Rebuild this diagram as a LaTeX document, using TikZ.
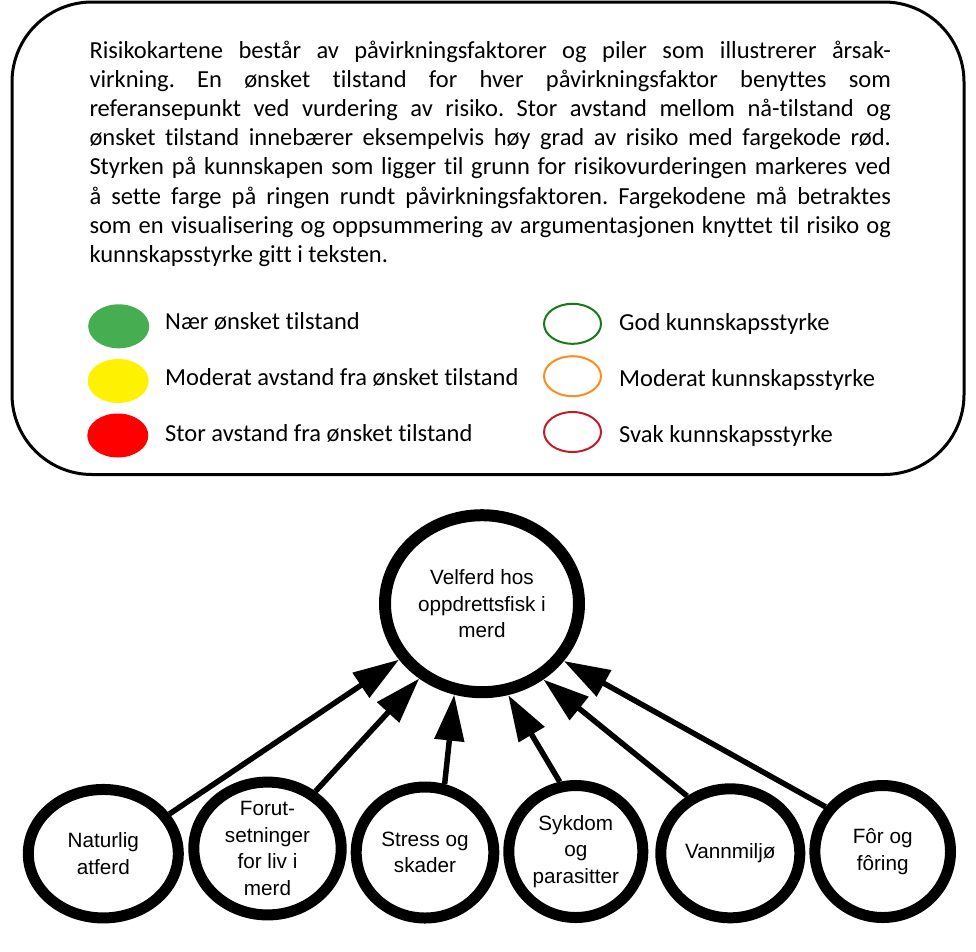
\documentclass[tikz,border=0pt]{standalone}
\usepackage{fontspec}
\setmainfont{Carlito}[Ligatures=NoCommon]
\newfontfamily\arialf{Liberation Sans}
\usetikzlibrary{shapes.geometric,arrows.meta}
\frenchspacing
\definecolor{lgreen}{RGB}{70,173,80}
\definecolor{lyellow}{RGB}{255,242,0}
\definecolor{lred}{RGB}{255,0,0}
\definecolor{kgreen}{RGB}{25,120,25}
\definecolor{korange}{RGB}{255,140,30}
\definecolor{kred}{RGB}{190,30,40}
\tikzset{
  paraline/.style={anchor=base west, inner sep=0pt, font=\fontsize{24.5}{29.15}\selectfont},
  legtext/.style={anchor=base west, inner sep=0pt, font=\fontsize{24.5}{29.15}\selectfont},
  legfill/.style={ellipse, inner sep=0pt, minimum width=61pt, minimum height=44pt},
  legring/.style={ellipse, draw, line width=2pt, inner sep=0pt, minimum width=57pt, minimum height=40pt},
  ring/.style={ellipse, draw, line width=11pt, inner sep=0pt, align=center,
    font=\arialf\fontsize{20.7}{26.5}\selectfont},
  causal/.style={line width=5.5pt, -{Triangle[length=46pt,width=29pt]}}
}
\begin{document}
\begin{tikzpicture}[x=1pt,y=-1pt]
\useasboundingbox (0,0) rectangle (976,951);
% top box
\draw[line width=3pt, rounded corners=80pt] (12,2) rectangle (964,474.5);
% paragraph
\node[paraline] (p1) at (89.3,58.3) {\makebox[801.4pt][s]{Risikokartene består av påvirkningsfaktorer og piler som illustrerer årsak-}};
\node[paraline] (p2) at (89.3,87.5) {\makebox[801.4pt][s]{virkning. En ønsket tilstand for hver påvirkningsfaktor benyttes som}};
\node[paraline] (p3) at (89.3,116.6) {\makebox[801.4pt][s]{referansepunkt ved vurdering av risiko. Stor avstand mellom nå-tilstand og}};
\node[paraline] (p4) at (89.3,145.8) {\makebox[801.4pt][s]{ønsket tilstand innebærer eksempelvis høy grad av risiko med fargekode rød.}};
\node[paraline] (p5) at (89.3,174.9) {\makebox[801.4pt][s]{Styrken på kunnskapen som ligger til grunn for risikovurderingen markeres ved}};
\node[paraline] (p6) at (89.3,204.0) {\makebox[801.4pt][s]{å sette farge på ringen rundt påvirkningsfaktoren. Fargekodene må betraktes}};
\node[paraline] (p7) at (89.3,233.2) {\makebox[801.4pt][s]{som en visualisering og oppsummering av argumentasjonen knyttet til risiko og}};
\node[paraline] (p8) at (89.3,262.3) {kunnskapsstyrke gitt i teksten.};
% legend left
\node[legfill, fill=lgreen] (lg) at (118.7,326.3) {};
\node[legfill, fill=lyellow] (ly) at (118.2,381) {};
\node[legfill, fill=lred] (lr) at (117.8,435.5) {};
\node[legtext] (tg) at (165,329) {Nær ønsket tilstand};
\node[legtext] (ty) at (165,385.7) {Moderat avstand fra ønsket tilstand};
\node[legtext] (tr) at (165,441.7) {Stor avstand fra ønsket tilstand};
% legend right
\node[legring, draw=kgreen] (kg) at (572.5,323.8) {};
\node[legring, draw=korange] (ko) at (572.5,376.2) {};
\node[legring, draw=kred] (kr) at (572.5,432) {};
\node[legtext] (tkg) at (619,330) {God kunnskapsstyrke};
\node[legtext] (tko) at (619,386.5) {Moderat kunnskapsstyrke};
\node[legtext] (tkr) at (619,442.5) {Svak kunnskapsstyrke};
% diagram
\node[ring, line width=12pt, minimum width=194pt, minimum height=177pt] (vel) at (482,603.7) {Velferd hos\\oppdrettsfisk i\\merd};
\node[ring, minimum width=150pt, minimum height=128.5pt] (nat) at (103.3,853.7) {Naturlig\\atferd};
\node[ring, minimum width=147.4pt, minimum height=128pt] (for) at (267.5,848.5) {Forut-\\setninger\\for liv i\\merd};
\node[ring, minimum width=137.6pt, minimum height=131pt] (str) at (425,852.5) {Stress og\\skader};
\node[ring, minimum width=134pt, minimum height=132pt] (syk) at (575.8,851.5) {Sykdom\\og\\parasitter};
\node[ring, minimum width=139pt, minimum height=129pt] (van) at (730.3,853.3) {Vannmiljø};
\node[ring, minimum width=135.6pt, minimum height=132pt] (for2) at (882.7,851.5) {Fôr og\\fôring};
\draw[causal] (nat.31.9) -- (vel.214.2);
\draw[causal] (for.50) -- (vel.230.1);
\draw[causal] (str.74.6) -- (vel.253.8);
\draw[causal] (syk.103.8) -- (vel.286.5);
\draw[causal] (van.127.2) -- (vel.309.8);
\draw[causal] (for2.142.1) -- (vel.325.4);
\end{tikzpicture}
\end{document}
